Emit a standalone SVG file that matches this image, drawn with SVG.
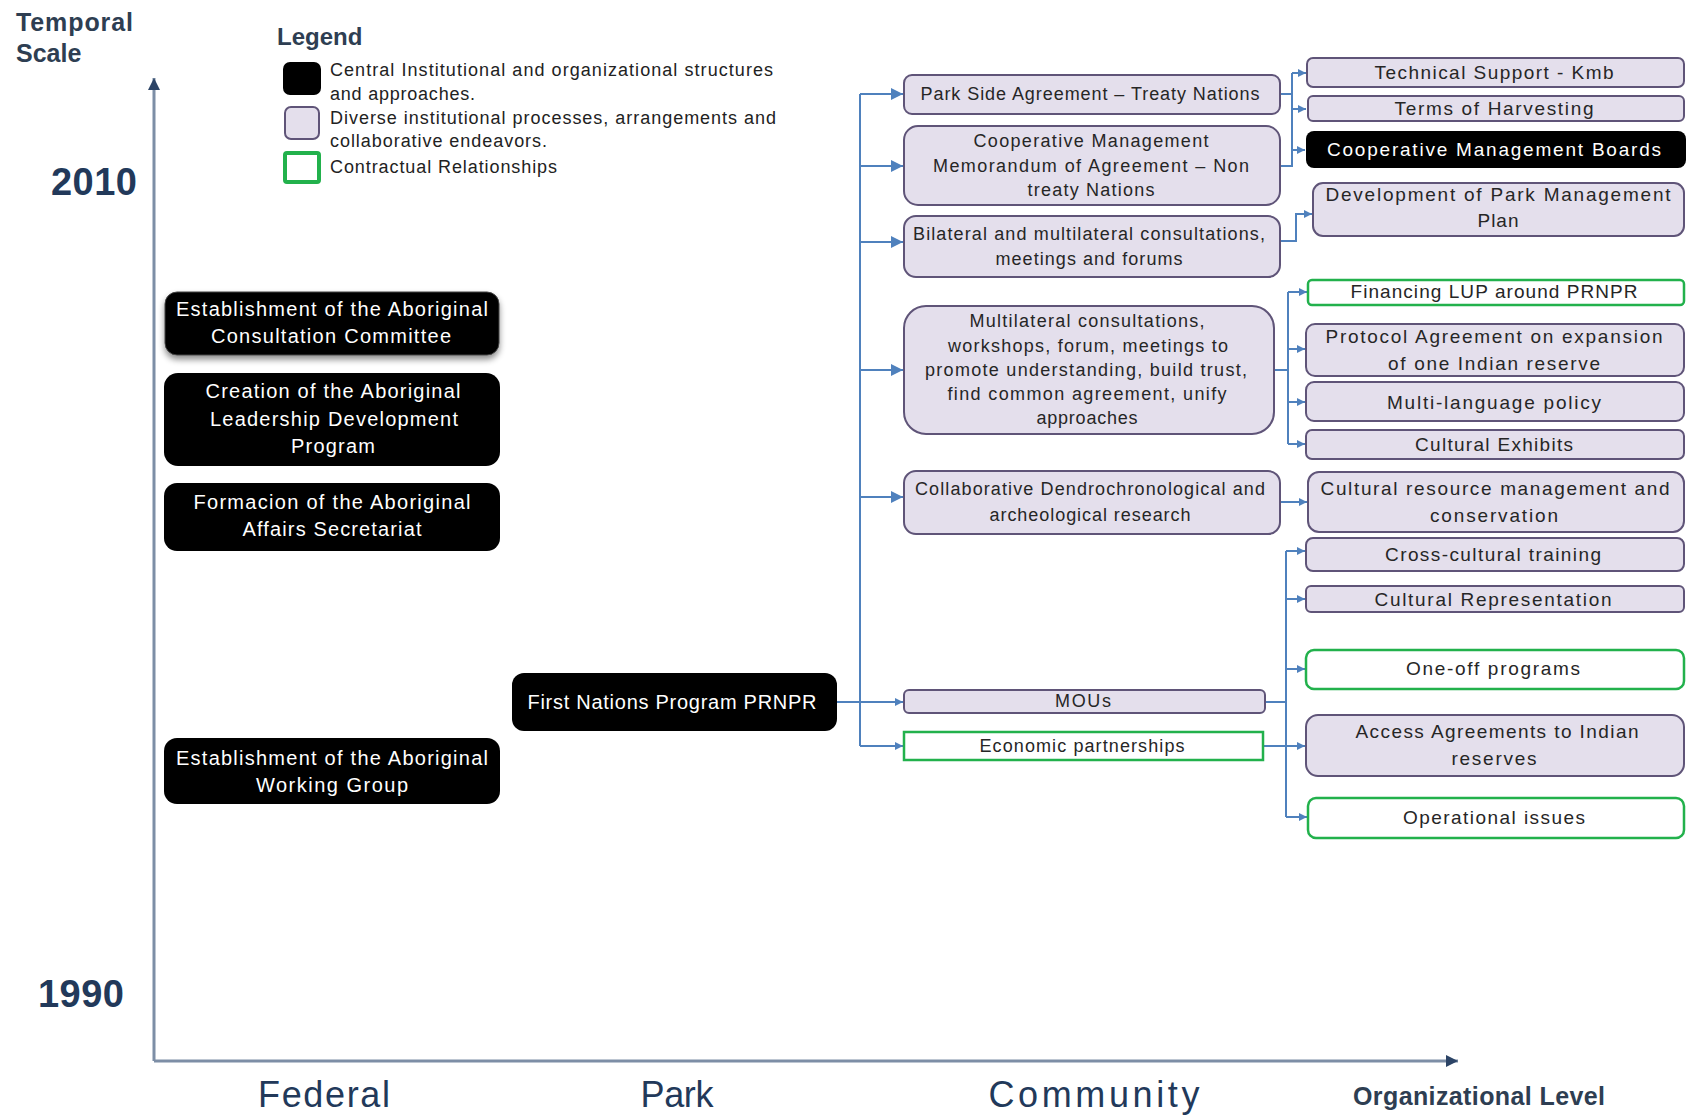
<svg xmlns="http://www.w3.org/2000/svg" width="1695" height="1115" viewBox="0 0 1695 1115">
<defs>
<style>
text{font-family:"Liberation Sans",Arial,sans-serif}
.blk{fill:#000}
.lav{fill:#e4dfec;stroke:#5f5478;stroke-width:2}
.grn{fill:#fff;stroke:#22b14c;stroke-width:2.5}
.tw{fill:#fff;font-size:20px;text-anchor:middle}
.tm{fill:#262626;font-size:18px;text-anchor:middle}
.tr{fill:#262626;font-size:19px;text-anchor:middle}
.trw{fill:#fff;font-size:19px;text-anchor:middle}
.tl{fill:#222;font-size:18px}
.con{stroke:#4f81bd;stroke-width:2;fill:none}
.axis{stroke:#7d8ea6;stroke-width:3;fill:none}
.title{fill:#2e3e52;font-weight:bold}
.year{fill:#22395a;font-weight:bold;font-size:38px}
.lvl{fill:#22395a;font-size:36px;text-anchor:middle}
</style>
<marker id="aL" viewBox="0 0 10 10" refX="10" refY="5" markerUnits="userSpaceOnUse" markerWidth="14" markerHeight="12" orient="auto"><path d="M0,0 L10,5 L0,10 z" fill="#4f81bd"/></marker>
<marker id="aS" viewBox="0 0 10 10" refX="10" refY="5" markerUnits="userSpaceOnUse" markerWidth="8" markerHeight="8" orient="auto"><path d="M0,0 L10,5 L0,10 z" fill="#4f81bd"/></marker>
<marker id="aX" viewBox="0 0 10 10" refX="10" refY="5" markerUnits="userSpaceOnUse" markerWidth="13" markerHeight="12" orient="auto"><path d="M0,0 L10,5 L0,10 z" fill="#2c4466"/></marker>
<filter id="sh" x="-10%" y="-20%" width="120%" height="150%"><feDropShadow dx="0" dy="4" stdDeviation="3" flood-color="#000" flood-opacity="0.45"/></filter>
</defs>
<rect width="1695" height="1115" fill="#fff"/>

<g id="axes">
<line class="axis" x1="154" y1="1061" x2="154" y2="78" marker-end="url(#aX)"/>
<line class="axis" x1="154" y1="1061" x2="1458" y2="1061" marker-end="url(#aX)"/>
<text class="title" x="16" y="31" font-size="25" textLength="117">Temporal</text>
<text class="title" x="16" y="62" font-size="25">Scale</text>
<text class="year" x="51" y="195" textLength="86">2010</text>
<text class="year" x="38" y="1007" textLength="86">1990</text>
<text class="lvl" x="324" y="1107" textLength="132">Federal</text>
<text class="lvl" x="677" y="1107" textLength="73">Park</text>
<text class="lvl" x="1094" y="1107" textLength="211">Community</text>
<text class="title" x="1353" y="1105" font-size="25" textLength="252">Organizational Level</text>
</g>

<g id="legend">
<text class="title" x="277" y="45" font-size="24">Legend</text>
<rect x="283" y="62" width="38" height="33" rx="7" fill="#000"/>
<rect x="285" y="107" width="34" height="32" rx="6" class="lav"/>
<rect x="285" y="153" width="34" height="29" rx="2" fill="#fff" stroke="#22b14c" stroke-width="4"/>
<text class="tl" x="330" y="76" textLength="443">Central Institutional and organizational structures</text>
<text class="tl" x="330" y="100" textLength="145">and approaches.</text>
<text class="tl" x="330" y="124" textLength="446">Diverse institutional processes, arrangements and</text>
<text class="tl" x="330" y="147" textLength="217">collaborative endeavors.</text>
<text class="tl" x="330" y="173" textLength="227">Contractual Relationships</text>
</g>

<g id="connectors">
<line class="con" x1="860" y1="94" x2="860" y2="746"/>
<line class="con" x1="860" y1="94" x2="903" y2="94" marker-end="url(#aL)"/>
<line class="con" x1="860" y1="166" x2="903" y2="166" marker-end="url(#aL)"/>
<line class="con" x1="860" y1="242" x2="903" y2="242" marker-end="url(#aL)"/>
<line class="con" x1="860" y1="370" x2="903" y2="370" marker-end="url(#aL)"/>
<line class="con" x1="860" y1="497" x2="903" y2="497" marker-end="url(#aL)"/>
<line class="con" x1="837" y1="702" x2="903" y2="702" marker-end="url(#aS)"/>
<line class="con" x1="860" y1="746" x2="903" y2="746" marker-end="url(#aS)"/>
<polyline class="con" points="1280,94 1292,94"/>
<polyline class="con" points="1280,166 1292,166 1292,73"/>
<line class="con" x1="1292" y1="73" x2="1306" y2="73" marker-end="url(#aS)"/>
<line class="con" x1="1292" y1="109" x2="1306" y2="109" marker-end="url(#aS)"/>
<line class="con" x1="1292" y1="150" x2="1305" y2="150" marker-end="url(#aS)"/>
<polyline class="con" points="1280,241 1296,241 1296,214 1312,214" marker-end="url(#aS)"/>
<polyline class="con" points="1274,370 1288,370"/>
<line class="con" x1="1288" y1="292" x2="1288" y2="444"/>
<line class="con" x1="1288" y1="292" x2="1307" y2="292" marker-end="url(#aS)"/>
<line class="con" x1="1288" y1="349" x2="1305" y2="349" marker-end="url(#aS)"/>
<line class="con" x1="1288" y1="402" x2="1305" y2="402" marker-end="url(#aS)"/>
<line class="con" x1="1288" y1="444" x2="1305" y2="444" marker-end="url(#aS)"/>
<line class="con" x1="1280" y1="502" x2="1307" y2="502" marker-end="url(#aS)"/>
<polyline class="con" points="1265,702 1286,702"/>
<line class="con" x1="1286" y1="551" x2="1286" y2="817"/>
<line class="con" x1="1286" y1="551" x2="1305" y2="551" marker-end="url(#aS)"/>
<line class="con" x1="1286" y1="599" x2="1305" y2="599" marker-end="url(#aS)"/>
<line class="con" x1="1286" y1="669" x2="1305" y2="669" marker-end="url(#aS)"/>
<line class="con" x1="1263" y1="746" x2="1305" y2="746" marker-end="url(#aS)"/>
<line class="con" x1="1286" y1="817" x2="1307" y2="817" marker-end="url(#aS)"/>
</g>

<g id="n-consultation-committee">
<rect x="165" y="292" width="334" height="63" rx="12" class="blk" stroke="#444" stroke-width="1" filter="url(#sh)"/>
<text class="tw" x="332" y="316" textLength="312">Establishment of the Aboriginal</text>
<text class="tw" x="331" y="343" textLength="240">Consultation Committee</text>
</g>
<g id="n-leadership-program">
<rect x="164" y="373" width="336" height="93" rx="14" class="blk"/>
<text class="tw" x="333" y="398" textLength="255">Creation of the Aboriginal</text>
<text class="tw" x="334" y="426" textLength="248">Leadership Development</text>
<text class="tw" x="333" y="453" textLength="84">Program</text>
</g>
<g id="n-affairs-secretariat">
<rect x="164" y="483" width="336" height="68" rx="13" class="blk"/>
<text class="tw" x="332" y="509" textLength="277">Formacion of the Aboriginal</text>
<text class="tw" x="332" y="536" textLength="179">Affairs Secretariat</text>
</g>
<g id="n-working-group">
<rect x="164" y="738" width="336" height="66" rx="13" class="blk"/>
<text class="tw" x="332" y="765" textLength="312">Establishment of the Aboriginal</text>
<text class="tw" x="332" y="792" textLength="152">Working Group</text>
</g>
<g id="n-first-nations">
<rect x="512" y="673" width="325" height="58" rx="12" class="blk"/>
<text class="tw" x="672" y="709" textLength="289">First Nations Program PRNPR</text>
</g>

<g id="n-park-side">
<rect x="904" y="75" width="376" height="39" rx="8" class="lav"/>
<text class="tm" x="1090" y="100" textLength="339">Park Side Agreement – Treaty Nations</text>
</g>
<g id="n-coop-moa">
<rect x="904" y="126" width="376" height="79" rx="14" class="lav"/>
<text class="tm" x="1091" y="147" textLength="235">Cooperative Management</text>
<text class="tm" x="1091" y="172" textLength="316">Memorandum of Agreement – Non</text>
<text class="tm" x="1091" y="196" textLength="127">treaty Nations</text>
</g>
<g id="n-bilateral">
<rect x="904" y="216" width="376" height="61" rx="12" class="lav"/>
<text class="tm" x="1089" y="240" textLength="352">Bilateral and multilateral consultations,</text>
<text class="tm" x="1089" y="265" textLength="187">meetings and forums</text>
</g>
<g id="n-multilateral">
<rect x="904" y="306" width="370" height="128" rx="22" class="lav"/>
<text class="tm" x="1087" y="327" textLength="235">Multilateral consultations,</text>
<text class="tm" x="1088" y="352" textLength="280">workshops, forum, meetings to</text>
<text class="tm" x="1086" y="376" textLength="322">promote understanding, build trust,</text>
<text class="tm" x="1087" y="400" textLength="279">find common agreement, unify</text>
<text class="tm" x="1087" y="424" textLength="101">approaches</text>
</g>
<g id="n-collab-research">
<rect x="904" y="471" width="376" height="63" rx="12" class="lav"/>
<text class="tm" x="1090" y="495" textLength="350">Collaborative Dendrochronological and</text>
<text class="tm" x="1090" y="521" textLength="201">archeological research</text>
</g>
<g id="n-mous">
<rect x="904" y="690" width="361" height="23" rx="5" class="lav"/>
<text class="tm" x="1083" y="707" textLength="56">MOUs</text>
</g>
<g id="n-economic">
<rect x="904" y="732" width="359" height="28" class="grn"/>
<text class="tm" x="1082" y="752" font-size="17" textLength="205">Economic partnerships</text>
</g>

<g id="n-technical-support">
<rect x="1307" y="58" width="377" height="29" rx="6" class="lav"/>
<text class="tr" x="1494" y="79" textLength="239">Technical Support - Kmb</text>
</g>
<g id="n-terms-harvesting">
<rect x="1308" y="96" width="376" height="25" rx="5" class="lav"/>
<text class="tr" x="1494" y="115" textLength="199">Terms of Harvesting</text>
</g>
<g id="n-coop-boards">
<rect x="1306" y="131" width="380" height="37" rx="8" class="blk"/>
<text class="trw" x="1494" y="156" textLength="334">Cooperative Management Boards</text>
</g>
<g id="n-park-plan">
<rect x="1313" y="183" width="371" height="53" rx="10" class="lav"/>
<text class="tr" x="1498" y="201" textLength="345">Development of Park Management</text>
<text class="tr" x="1498" y="227" textLength="41">Plan</text>
</g>
<g id="n-financing-lup">
<rect x="1308" y="280" width="376" height="25" rx="4" class="grn"/>
<text class="tr" x="1494" y="298" textLength="287">Financing LUP around PRNPR</text>
</g>
<g id="n-protocol">
<rect x="1306" y="324" width="378" height="52" rx="9" class="lav"/>
<text class="tr" x="1494" y="343" textLength="337">Protocol Agreement on expansion</text>
<text class="tr" x="1494" y="370" textLength="212">of one Indian reserve</text>
</g>
<g id="n-multi-language">
<rect x="1306" y="382" width="378" height="39" rx="8" class="lav"/>
<text class="tr" x="1494" y="409" textLength="214">Multi-language policy</text>
</g>
<g id="n-cultural-exhibits">
<rect x="1306" y="430" width="378" height="29" rx="6" class="lav"/>
<text class="tr" x="1494" y="451" textLength="158">Cultural Exhibits</text>
</g>
<g id="n-cultural-resource">
<rect x="1308" y="472" width="376" height="60" rx="11" class="lav"/>
<text class="tr" x="1495" y="495" textLength="349">Cultural resource management and</text>
<text class="tr" x="1494" y="522" textLength="128">conservation</text>
</g>
<g id="n-cross-cultural">
<rect x="1306" y="538" width="378" height="33" rx="7" class="lav"/>
<text class="tr" x="1493" y="561" textLength="216">Cross-cultural training</text>
</g>
<g id="n-cultural-representation">
<rect x="1306" y="586" width="378" height="26" rx="5" class="lav"/>
<text class="tr" x="1493" y="606" textLength="237">Cultural Representation</text>
</g>
<g id="n-one-off">
<rect x="1306" y="650" width="378" height="39" rx="8" class="grn"/>
<text class="tr" x="1493" y="675" textLength="174">One-off programs</text>
</g>
<g id="n-access-agreements">
<rect x="1306" y="715" width="378" height="61" rx="12" class="lav"/>
<text class="tr" x="1497" y="738" textLength="283">Access Agreements to Indian</text>
<text class="tr" x="1494" y="765" textLength="85">reserves</text>
</g>
<g id="n-operational">
<rect x="1308" y="798" width="376" height="40" rx="8" class="grn"/>
<text class="tr" x="1494" y="824" textLength="182">Operational issues</text>
</g>
</svg>
